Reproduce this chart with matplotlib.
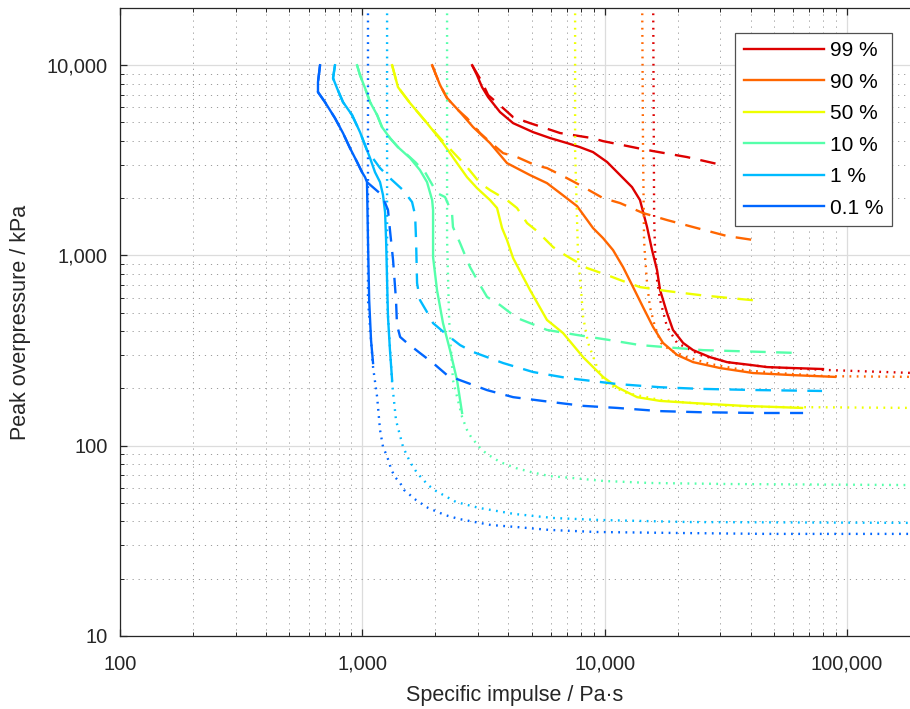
import matplotlib
matplotlib.use("Agg")
import matplotlib.pyplot as plt
from matplotlib.ticker import FuncFormatter, LogLocator, NullFormatter

plt.rcParams['font.family'] = ['Liberation Sans', 'DejaVu Sans']

labels = ["99 %", "90 %", "50 %", "10 %", "1 %", "0.1 %"]
colors = ["#DD0000", "#FF6600", "#EEFF00", "#55FFAA", "#00BBFF", "#0066FF"]

# 99 %
sol99_x = [2838, 2972, 3119, 3304, 3700, 4190, 5064, 5957, 6998, 7907, 8954, 10230, 11580, 12970, 13990,
           14960, 15690, 16450, 16930, 18090, 19140, 21070, 23170, 27230, 31990, 39810, 46770, 59920, 79620]
sol99_y = [10000, 8870, 7670, 6797, 5670, 4960, 4450, 4140, 3897, 3710, 3494, 3100, 2645, 2287, 1955,
           1410, 1067, 838, 658, 498, 406, 347, 318, 292, 275, 266, 259, 256, 253]
dash99_x = [2838, 3119, 3304, 3810, 4190, 4920, 5516, 6546, 7407, 8872, 9845, 11910, 13610, 15840, 21880, 29380]
dash99_y = [10000, 8150, 6967, 5950, 5335, 4960, 4730, 4400, 4293, 4140, 3990, 3800, 3670, 3537, 3290, 3020]
dot99_x = [15840, 16000, 16140, 16450, 16930, 18090, 19900, 24780, 31990, 46770, 82800, 190000]
dot99_y = [30000, 1592, 1067, 743, 583, 421, 347, 300, 275, 259, 250, 241]

# 90 %
sol90_x = [1941, 2093, 2237, 2531, 2864, 3365, 3954, 4920, 5781, 6546, 7694, 8954, 9845, 10830, 11910,
           13100, 14400, 15840, 17410, 19900, 23170, 29940, 40980, 59920, 89270]
sol90_y = [10000, 7860, 6717, 5670, 4730, 3897, 3058, 2645, 2400, 2128, 1817, 1393, 1234, 1067, 869,
           682, 535, 421, 347, 300, 275, 256, 241, 235, 230]
dash90_x = [1941, 2093, 2237, 2483, 2704, 3060, 3365, 3810, 4348, 5164, 5781, 6735, 7907, 9845, 11580,
            14400, 18090, 24040, 31990, 43800]
dash90_y = [10000, 7860, 6717, 5807, 5270, 4400, 3945, 3450, 3290, 2985, 2880, 2613, 2344, 2002, 1885,
            1671, 1535, 1393, 1265, 1191]
dot90_x = [14260, 14400, 14540, 14680, 14960, 15380, 16140, 17090, 18620, 21880, 27230, 37240, 51470, 82800, 190000]
dot90_y = [30000, 3580, 1205, 981, 716, 535, 421, 347, 318, 292, 269, 250, 241, 232, 230]

# 50 %
sol50_x = [1327, 1403, 1574, 1849, 2152, 2459, 2704, 2972, 3365, 3597, 3772, 3954, 4190, 4920, 5781,
           6735, 8150, 9845, 11250, 13610, 16930, 23170, 37240, 65270]
sol50_y = [10000, 7670, 6320, 4960, 3897, 3058, 2580, 2261, 1955, 1775, 1393, 1205, 969, 658, 458,
           391, 292, 230, 203, 180, 172, 167.6, 162, 158]
dash50_x = [1327, 1403, 1574, 1849, 2093, 2366, 2704, 3060, 3365, 3954, 4348, 4783, 5260, 6124, 6866,
            8453, 10230, 11580, 13990, 18090, 24780, 32920, 44630]
dash50_y = [10000, 7670, 6320, 4960, 4140, 3494, 2914, 2400, 2206, 1955, 1775, 1480, 1343, 1107, 1005,
            859, 789, 743, 682, 650, 619, 597, 576]
dot50_x = [7551, 7551, 7767, 7990, 8150, 8543, 9303, 10040, 12370, 16930, 27230, 43800, 190000]
dot50_y = [30000, 3580, 981, 658, 475, 347, 259, 214, 189, 174, 164, 160, 158]

# 10 %
sol10_x = [951, 978, 1026, 1076, 1151, 1205, 1300, 1403, 1574, 1729, 1849, 1941, 1958, 1958, 2033,
           2152, 2300, 2459, 2580]
sol10_y = [10000, 8870, 7580, 6400, 5470, 4730, 4140, 3710, 3250, 2810, 2430, 1955, 1733, 981, 658,
           441, 318, 221, 148.6]
dash10_x = [951, 978, 1026, 1076, 1151, 1205, 1300, 1403, 1459, 1651, 1815, 2033, 2194, 2344, 2366,
            2531, 2652, 2782, 3060, 3272, 3700, 4348, 4920, 5781, 7694, 10520, 13990, 25470, 64000]
dash10_y = [10000, 8870, 7580, 6400, 5470, 4730, 4140, 3710, 3580, 3100, 2740, 2128, 2028, 1671, 1410,
            1161, 1005, 869, 699, 605, 549, 469, 441, 406, 382, 359, 338, 318, 307]
dot10_x = [2237, 2237, 2281, 2366, 2580, 2704, 2810, 2945, 3088, 3272, 3700, 4307, 4965, 5896, 7337,
           9845, 15380, 32280, 190000]
dot10_y = [30000, 1205, 458, 221, 141.5, 121, 111.1, 103.3, 96.1, 90.4, 82.1, 76.3, 72.7, 69.3, 67.7,
           65.3, 63.7, 62.9, 62.1]

# 1 %
sol1_x = [771, 757, 786, 832, 907, 978, 1026, 1076, 1128, 1183, 1217, 1241, 1253, 1276, 1300, 1327]
sol1_y = [10000, 8550, 7580, 6400, 5470, 4450, 3800, 3250, 2740, 2430, 2077, 1690, 1205, 475, 318, 221]
dash1_x = [771, 757, 786, 832, 907, 978, 1026, 1045, 1183, 1300, 1472, 1604, 1651, 1666, 1682, 1729,
           1849, 1958, 2237, 2531, 2864, 3810, 5064, 6998, 11250, 16930, 24780, 43800, 78900]
dash1_y = [10000, 8550, 7580, 6400, 5470, 4450, 3800, 3580, 2880, 2550, 2206, 1909, 1631, 1205, 716, 583,
           504, 441, 382, 338, 311, 272, 244, 227, 211, 203, 199, 196, 194]
dot1_x = [1265, 1265, 1327, 1377, 1472, 1574, 1682, 1868, 2014, 2436, 3031, 4226, 6124, 9572, 22280, 190000]
dot1_y = [30000, 583, 214, 136, 98.5, 82.1, 71.9, 62.1, 57.8, 50.6, 47.1, 43.8, 41.7, 40.7, 39.7, 39.3]

# 0.1 %
sol01_x = [669, 656, 656, 701, 771, 832, 889, 951, 997, 1026, 1045, 1055, 1067, 1086, 1107]
sol01_y = [10000, 8150, 7220, 6400, 5270, 4400, 3670, 3100, 2740, 2580, 2430, 1205, 583, 359, 272]
dash01_x = [669, 656, 656, 701, 771, 832, 889, 951, 997, 1026, 1045, 1205, 1276, 1300, 1339, 1377, 1390,
            1432, 1529, 1729, 1958, 2237, 2531, 3272, 4190, 5957, 8150, 11250, 16930, 24780, 43800, 65900]
dash01_y = [10000, 8150, 7220, 6400, 5270, 4400, 3670, 3100, 2740, 2580, 2430, 2077, 1733, 1360, 946, 583, 431,
            373, 347, 307, 272, 235, 221, 196, 180, 170, 162, 158, 152, 150, 148.6, 148.6]
dot01_x = [1055, 1055, 1107, 1151, 1183, 1217, 1253, 1289, 1313, 1364, 1432, 1487, 1666, 1868, 2194, 2507,
           2918, 3398, 4307, 5896, 9215, 19140, 46770, 190000]
dot01_y = [30000, 583, 259, 180, 121, 98.5, 90.4, 82.1, 75.4, 68.5, 63.7, 58.5, 51.8, 47.1, 43.2, 41.2,
           39.7, 38.3, 37.4, 36.1, 35.2, 34.8, 34.4, 34.4]

solid = [(sol99_x, sol99_y), (sol90_x, sol90_y), (sol50_x, sol50_y),
         (sol10_x, sol10_y), (sol1_x, sol1_y), (sol01_x, sol01_y)]
dashed = [(dash99_x, dash99_y), (dash90_x, dash90_y), (dash50_x, dash50_y),
          (dash10_x, dash10_y), (dash1_x, dash1_y), (dash01_x, dash01_y)]
dotted = [(dot99_x, dot99_y), (dot90_x, dot90_y), (dot50_x, dot50_y),
          (dot10_x, dot10_y), (dot1_x, dot1_y), (dot01_x, dot01_y)]

fig = plt.figure(figsize=(9.1, 7.09), dpi=100)
ax = fig.add_axes([0.1319, 0.1030, 0.8681, 0.8858])
ax.set_xscale('log')
ax.set_yscale('log')

lw = 1.7
for i in range(6):
    ax.plot(*dotted[i], color=colors[i], lw=lw, linestyle=(0, (0.75, 2.3)))
    ax.plot(*dashed[i], color=colors[i], lw=lw, linestyle=(0, (6.6, 4.4)))
    ax.plot(*solid[i], color=colors[i], lw=lw, label=labels[i])

ax.set_xlim(100, 1.82e5)
ax.set_ylim(10, 2e4)

fmt = FuncFormatter(lambda v, p: f"{int(round(v)):,}")
ax.xaxis.set_major_formatter(fmt)
ax.yaxis.set_major_formatter(fmt)
ax.xaxis.set_minor_locator(LogLocator(base=10, subs=range(2, 10)))
ax.yaxis.set_minor_locator(LogLocator(base=10, subs=range(2, 10)))
ax.xaxis.set_minor_formatter(NullFormatter())
ax.yaxis.set_minor_formatter(NullFormatter())

ax.grid(which='major', color='#DCDCDC', lw=0.9, ls='-')
ax.grid(which='minor', color='#9A9A9A', lw=0.7, ls=(0, (1.2, 5)))
ax.set_axisbelow(True)

for s in ['left', 'bottom', 'top']:
    ax.spines[s].set_color('#262626')
    ax.spines[s].set_linewidth(0.9)
ax.spines['right'].set_visible(False)
ax.tick_params(which='both', direction='in', top=True, right=False, colors='#262626', labelsize=14.5)
ax.tick_params(which='major', length=5, width=0.9)
ax.tick_params(which='minor', length=3, width=0.7)
ax.xaxis.set_tick_params(which='major', pad=13.5)
ax.yaxis.set_tick_params(which='major', pad=9)

ax.set_xlabel('Specific impulse / Pa·s', fontsize=15.5, color='#262626', labelpad=8)
ax.set_ylabel('Peak overpressure / kPa', fontsize=15.5, color='#262626', labelpad=11)

leg = ax.legend(loc='upper right', bbox_to_anchor=(0.977, 0.9602), borderaxespad=0, fontsize=15,
                handlelength=3.85, labelspacing=0.6, borderpad=0.4, handletextpad=0.3,
                fancybox=False, framealpha=1)
leg.get_frame().set_edgecolor('#505050')
leg.get_frame().set_linewidth(0.9)

fig.savefig('out.png', dpi=100)
